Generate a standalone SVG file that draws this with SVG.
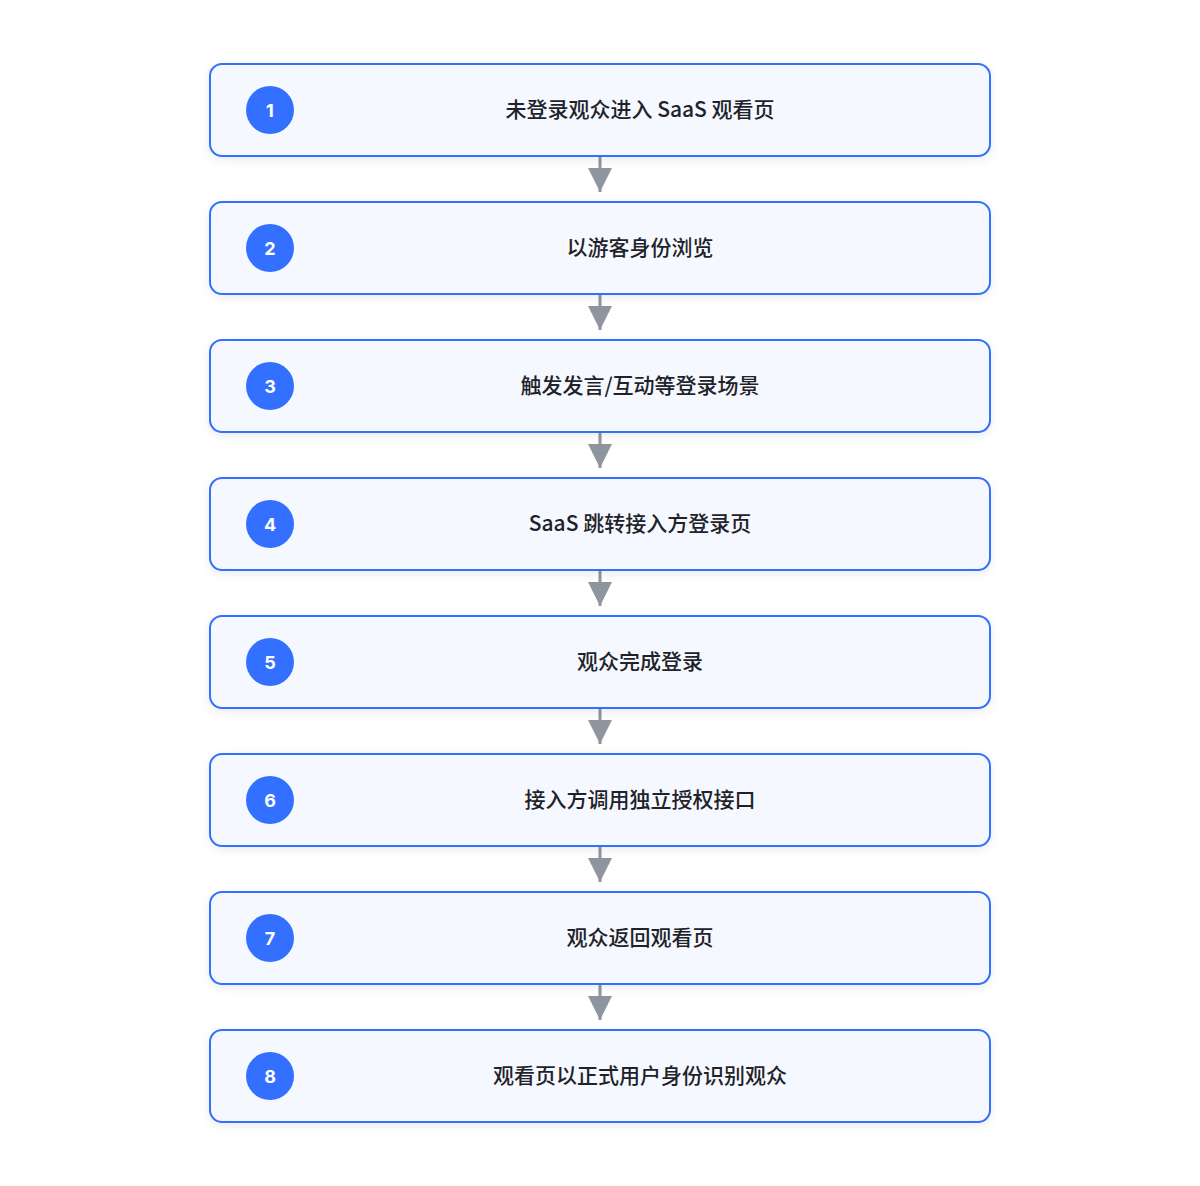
<svg xmlns="http://www.w3.org/2000/svg" width="1200" height="1186" viewBox="0 0 1200 1186">
<defs>
<filter id="sh" x="-10%" y="-30%" width="120%" height="160%">
<feDropShadow dx="0" dy="3" stdDeviation="5" flood-color="#1f2329" flood-opacity="0.08"/>
</filter>
<marker id="arr" viewBox="0 0 24 24" markerWidth="24" markerHeight="24" refX="24" refY="12" orient="auto" markerUnits="userSpaceOnUse">
<path d="M0 0 L24 12 L0 24 Z" fill="#8f959e"/>
</marker>
<style>
.box{fill:#f5f8ff;stroke:#3370ff;stroke-width:2;filter:url(#sh)}
.num{fill:#3370ff}
.nt{fill:#ffffff;font-family:"Inter","Noto Sans","Liberation Sans",sans-serif;font-size:18px;font-weight:700;text-anchor:middle}
.lbl{fill:#1f2329;font-family:"Noto Sans CJK SC","Noto Sans",sans-serif;font-size:21px;font-weight:500;text-anchor:middle}
.edge{stroke:#8f959e;stroke-width:3;fill:none}
</style>
</defs>
<rect width="1200" height="1186" fill="#ffffff"/>
<g id="connectors">
<line class="edge" x1="600" y1="157" x2="600" y2="192" marker-end="url(#arr)"/>
<line class="edge" x1="600" y1="295" x2="600" y2="330" marker-end="url(#arr)"/>
<line class="edge" x1="600" y1="433" x2="600" y2="468" marker-end="url(#arr)"/>
<line class="edge" x1="600" y1="571" x2="600" y2="606" marker-end="url(#arr)"/>
<line class="edge" x1="600" y1="709" x2="600" y2="744" marker-end="url(#arr)"/>
<line class="edge" x1="600" y1="847" x2="600" y2="882" marker-end="url(#arr)"/>
<line class="edge" x1="600" y1="985" x2="600" y2="1020" marker-end="url(#arr)"/>
</g>
<g id="step1"><rect class="box" x="210" y="64" width="780" height="92" rx="12"/><circle class="num" cx="270" cy="110" r="24"/><text class="nt" x="270" y="116.5">1</text><text class="lbl" x="640" y="117">未登录观众进入 SaaS 观看页</text></g>
<g id="step2"><rect class="box" x="210" y="202" width="780" height="92" rx="12"/><circle class="num" cx="270" cy="248" r="24"/><text class="nt" x="270" y="254.5">2</text><text class="lbl" x="640" y="255">以游客身份浏览</text></g>
<g id="step3"><rect class="box" x="210" y="340" width="780" height="92" rx="12"/><circle class="num" cx="270" cy="386" r="24"/><text class="nt" x="270" y="392.5">3</text><text class="lbl" x="640" y="393">触发发言/互动等登录场景</text></g>
<g id="step4"><rect class="box" x="210" y="478" width="780" height="92" rx="12"/><circle class="num" cx="270" cy="524" r="24"/><text class="nt" x="270" y="530.5">4</text><text class="lbl" x="640" y="531">SaaS 跳转接入方登录页</text></g>
<g id="step5"><rect class="box" x="210" y="616" width="780" height="92" rx="12"/><circle class="num" cx="270" cy="662" r="24"/><text class="nt" x="270" y="668.5">5</text><text class="lbl" x="640" y="669">观众完成登录</text></g>
<g id="step6"><rect class="box" x="210" y="754" width="780" height="92" rx="12"/><circle class="num" cx="270" cy="800" r="24"/><text class="nt" x="270" y="806.5">6</text><text class="lbl" x="640" y="807">接入方调用独立授权接口</text></g>
<g id="step7"><rect class="box" x="210" y="892" width="780" height="92" rx="12"/><circle class="num" cx="270" cy="938" r="24"/><text class="nt" x="270" y="944.5">7</text><text class="lbl" x="640" y="945">观众返回观看页</text></g>
<g id="step8"><rect class="box" x="210" y="1030" width="780" height="92" rx="12"/><circle class="num" cx="270" cy="1076" r="24"/><text class="nt" x="270" y="1082.5">8</text><text class="lbl" x="640" y="1083">观看页以正式用户身份识别观众</text></g>
</svg>
